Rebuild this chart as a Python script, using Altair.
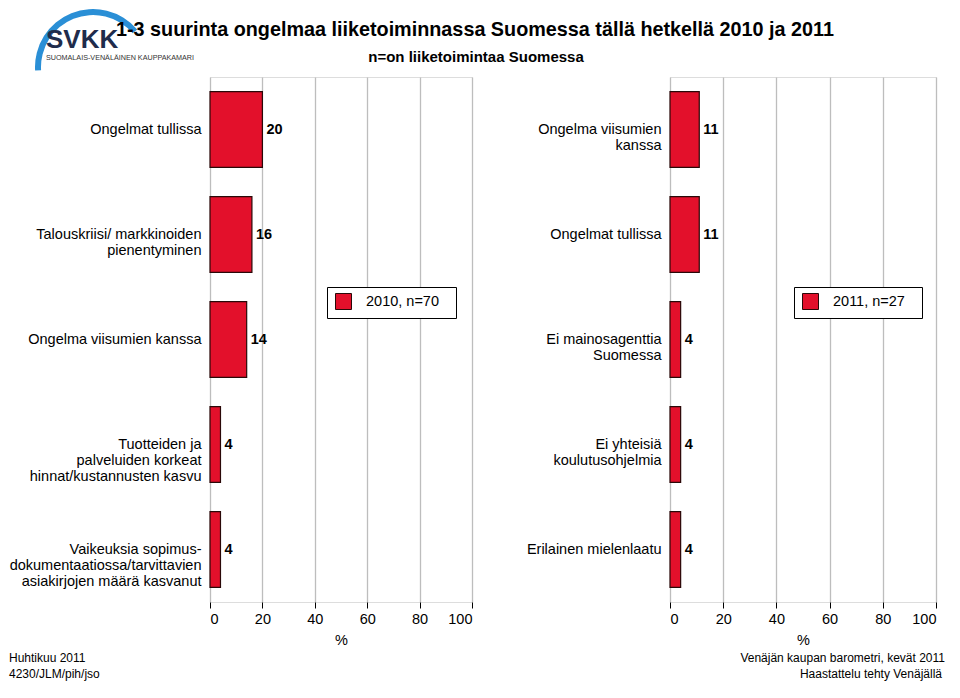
import altair as alt
import pandas as pd

# ---- data ----
left_labels = [
    "Ongelmat tullissa",
    "Talouskriisi/ markkinoiden|pienentyminen",
    "Ongelma viisumien kanssa",
    "Tuotteiden ja|palveluiden korkeat|hinnat/kustannusten kasvu",
    "Vaikeuksia sopimus-|dokumentaatiossa/tarvittavien|asiakirjojen määrä kasvanut",
]
left_values = [20, 16, 14, 4, 4]
left_series = "2010, n=70"

right_labels = [
    "Ongelma viisumien|kanssa",
    "Ongelmat tullissa",
    "Ei mainosagenttia|Suomessa",
    "Ei yhteisiä|koulutusohjelmia",
    "Erilainen mielenlaatu",
]
right_values = [11, 11, 4, 4, 4]
right_series = "2011, n=27"

x_ticks = [0, 20, 40, 60, 80, 100]

title_text = "1-3 suurinta ongelmaa liiketoiminnassa Suomessa tällä hetkellä 2010 ja 2011"
subtitle_text = "n=on liiketoimintaa Suomessa"
footer_left = ["Huhtikuu 2011", "4230/JLM/pih/jso"]
footer_right = ["Venäjän kaupan barometri, kevät 2011", "Haastattelu tehty Venäjällä"]
logo_main = "SVKK"
logo_sub = "SUOMALAIS-VENÄLÄINEN KAUPPAKAMARI"

FONT = "Liberation Sans"
RED = "#e3102b"
EDGE = "#2a0808"
H = 525


def panel(labels, values, series, width, legend_x, extras):
    df = pd.DataFrame({"label": labels, "value": values, "series": [series] * len(labels)})
    base = alt.Chart(df)
    y = alt.Y(
        "label:N",
        sort=labels,
        scale=alt.Scale(paddingInner=0.28, paddingOuter=0.14),
        axis=alt.Axis(
            title=None,
            labelExpr="split(datum.label, '|')",
            ticks=False,
            domain=False,
            labelFontSize=14.5,
            labelFont=FONT,
            labelColor="black",
            labelPadding=9,
            labelLineHeight=16,
            labelLimit=400,
        ),
    )
    x = alt.X(
        "value:Q",
        scale=alt.Scale(domain=[0, 100], nice=False),
        axis=alt.Axis(
            values=x_ticks,
            title="%",
            titleFont=FONT,
            titleFontSize=14.5,
            titleFontWeight="normal",
            titleColor="black",
            titlePadding=8,
            labelFont=FONT,
            labelFontSize=14.5,
            labelColor="black",
            labelPadding=4,
            domain=False,
            tickColor="black",
            tickSize=6,
            gridColor="#bdbdbd",
            gridWidth=1.3,
        ),
    )
    bars = base.mark_bar(stroke=EDGE, strokeWidth=1.2).encode(
        x=x,
        y=y,
        color=alt.Color(
            "series:N",
            scale=alt.Scale(range=[RED]),
            legend=alt.Legend(
                title=None,
                orient="none",
                legendX=legend_x,
                legendY=210,
                strokeColor="black",
                fillColor="white",
                padding=6,
                symbolType="square",
                symbolSize=256,
                symbolStrokeColor=EDGE,
                symbolStrokeWidth=1,
                symbolOpacity=1,
                symbolOffset=2,
                labelFont=FONT,
                labelFontSize=14.5,
                labelColor="black",
                labelOffset=14,
                labelExpr="datum.label + '\u2800'",
            ),
        ),
    )
    txt = base.mark_text(
        align="left", dx=4, font=FONT, fontSize=14.5, fontWeight="bold", color="black"
    ).encode(x="value:Q", y=alt.Y("label:N", sort=labels), text="value:Q")
    return alt.layer(bars, txt, *extras).properties(width=width, height=H)


def label_mark(text, x, y, **kw):
    d = pd.DataFrame({"t": [text]})
    return alt.Chart(d).mark_text(font=FONT, **kw).encode(
        text="t:N", x=alt.value(x), y=alt.value(y)
    )


arc_df = pd.DataFrame({"a": [1]})
logo_arc = alt.Chart(arc_df).mark_arc(color="#2a8fd6").encode(
    x=alt.value(92 - 209),
    y=alt.value(-10),
    radius=alt.value(58),
    radius2=alt.value(52),
    theta=alt.value(4.65),
    theta2=alt.value(7.15),
)

left_extras = [
    logo_arc,
    label_mark(logo_main, 45 - 209, 47 - 76, fontSize=26, fontWeight="bold",
               color="#1f2c4c", align="left", baseline="alphabetic"),
    label_mark(logo_sub, 45 - 209, 59 - 76, fontSize=7.2, color="#333333",
               align="left", baseline="alphabetic"),
    label_mark(title_text, 474 - 209, 35 - 76, fontSize=19.8, fontWeight="bold",
               color="black", align="center", baseline="alphabetic"),
    label_mark(subtitle_text, 475 - 209, 61 - 76, fontSize=15, fontWeight="bold",
               color="black", align="center", baseline="alphabetic"),
    label_mark(footer_left[0], 8 - 209, 661 - 76, fontSize=12, color="black",
               align="left", baseline="alphabetic"),
    label_mark(footer_left[1], 8 - 209, 677 - 76, fontSize=12, color="black",
               align="left", baseline="alphabetic"),
]
right_extras = [
    label_mark(footer_right[0], 944 - 669, 661 - 76, fontSize=12, color="black",
               align="right", baseline="alphabetic"),
    label_mark(footer_right[1], 941 - 669, 677 - 76, fontSize=12, color="black",
               align="right", baseline="alphabetic"),
]

left = panel(left_labels, left_values, left_series, 262, 117, left_extras)
right = panel(right_labels, right_values, right_series, 266, 124, right_extras)

chart = (
    alt.hconcat(left, right, spacing=198, bounds="flush")
    .resolve_scale(color="independent")
    .properties(padding={"left": 0, "top": 0, "right": 5, "bottom": 5})
    .configure_view(stroke="black", strokeWidth=1.3)
    .configure(font=FONT)
)

chart.save("out.html", embed_options={"renderer": "svg", "actions": False})
